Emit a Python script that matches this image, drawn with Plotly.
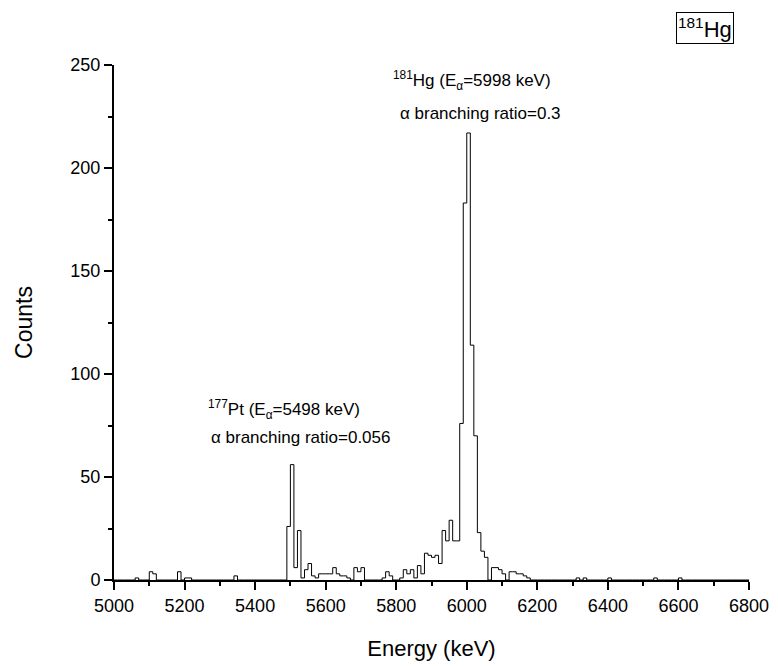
import numpy as np
import plotly.graph_objects as go

# Histogram bin left edges (keV) with non-zero counts, 10 keV bins
bin_edges_nonzero = [5060, 5100, 5110, 5180, 5200, 5210, 5340,
                     5490, 5500, 5510, 5520, 5530, 5540, 5550, 5560, 5570, 5580, 5590,
                     5600, 5610, 5620, 5630, 5640, 5650, 5660, 5680, 5690, 5700,
                     5760, 5770, 5780, 5810, 5820, 5830, 5840, 5850, 5860, 5870,
                     5880, 5890, 5900, 5910, 5920, 5930, 5940, 5950, 5960, 5970,
                     5980, 5990, 6000, 6010, 6020, 6030, 6040, 6050,
                     6070, 6080, 6090, 6100, 6120, 6130, 6140, 6150, 6160, 6170,
                     6310, 6330, 6400, 6530, 6600]
counts_nonzero = [1, 4, 3, 4, 1, 1, 2,
                  26, 56, 6, 24, 1, 5, 8, 2, 1, 3, 3,
                  3, 3, 6, 3, 2, 2, 1, 6, 4, 6,
                  1, 4, 2, 1, 5, 3, 5, 1, 7, 3,
                  13, 12, 11, 12, 8, 24, 19, 29, 19, 19,
                  76, 183, 217, 114, 70, 23, 14, 11,
                  6, 6, 5, 3, 4, 4, 3, 3, 2, 1,
                  1, 1, 1, 1, 1]

bin_width = 10
e_min, e_max = 5000, 6800
x_ticks = [5000, 5200, 5400, 5600, 5800, 6000, 6200, 6400, 6600, 6800]
y_ticks = [0, 50, 100, 150, 200, 250]

left_edges = np.arange(e_min, e_max, bin_width)
counts = np.zeros(len(left_edges))
for e, c in zip(bin_edges_nonzero, counts_nonzero):
    counts[(e - e_min) // bin_width] = c

x_step = np.append(left_edges, e_max)
y_step = np.append(counts, counts[-1])

fig = go.Figure()
fig.add_trace(go.Scatter(x=x_step, y=y_step, mode="lines", line_shape="hv",
                         line=dict(color="black", width=1), showlegend=False,
                         hoverinfo="skip"))

font_fam = "Arial, Liberation Sans, sans-serif"
L, R, T, B = 114, 29, 65, 86

fig.update_layout(
    width=778, height=666,
    margin=dict(l=L, r=R, t=T, b=B, autoexpand=False),
    paper_bgcolor="white", plot_bgcolor="white",
    font=dict(family=font_fam, color="black"),
    xaxis=dict(range=[e_min, e_max], tickvals=x_ticks, ticks="outside", ticklen=8,
               tickwidth=1.5, tickcolor="black", showline=True, linecolor="black",
               linewidth=2, showgrid=False, zeroline=False, automargin=False,
               tickfont=dict(size=18, family=font_fam),
               minor=dict(dtick=100, ticks="outside", ticklen=4, tickwidth=1.5, tickcolor="black"),
               title=dict(text="Energy (keV)", font=dict(size=22, family=font_fam), standoff=26)),
    yaxis=dict(range=[0, 250], tickvals=y_ticks, ticks="outside", ticklen=8,
               tickwidth=1.5, tickcolor="black", showline=True, linecolor="black",
               linewidth=2, showgrid=False, zeroline=False, automargin=False,
               tickfont=dict(size=18, family=font_fam),
               minor=dict(dtick=25, ticks="outside", ticklen=4, tickwidth=1.5, tickcolor="black"),
               title=dict(text="Counts", font=dict(size=23, family=font_fam), standoff=31)),
)

pw = 778 - L - R
ph = 666 - T - B
def px(xpix):
    return (xpix - L) / pw
def py(ypix):
    return (666 - B - ypix) / ph

def ann(xp, yp, text, size=17):
    fig.add_annotation(x=xp, y=yp, xref="paper", yref="paper", text=text, showarrow=False,
                       font=dict(size=size, family=font_fam, color="black"),
                       xanchor="center", yanchor="middle")

ann(px(472), py(80), "<sup>181</sup>Hg (E<sub>α</sub>=5998 keV)")
ann(px(481), py(113), "α branching ratio=0.3")
ann(px(284), py(410), "<sup>177</sup>Pt (E<sub>α</sub>=5498 keV)")
ann(px(300), py(437), "α branching ratio=0.056")
fig.add_annotation(x=px(705), y=py(28), xref="paper", yref="paper",
                   text="<sup>181</sup>Hg", showarrow=False,
                   font=dict(size=22, family=font_fam, color="black"),
                   xanchor="center", yanchor="middle",
                   bordercolor="black", borderwidth=1, borderpad=1, bgcolor="white")

fig.write_html("out.html", config={"displayModeBar": False},
               post_script="document.body.style.margin='0';")
